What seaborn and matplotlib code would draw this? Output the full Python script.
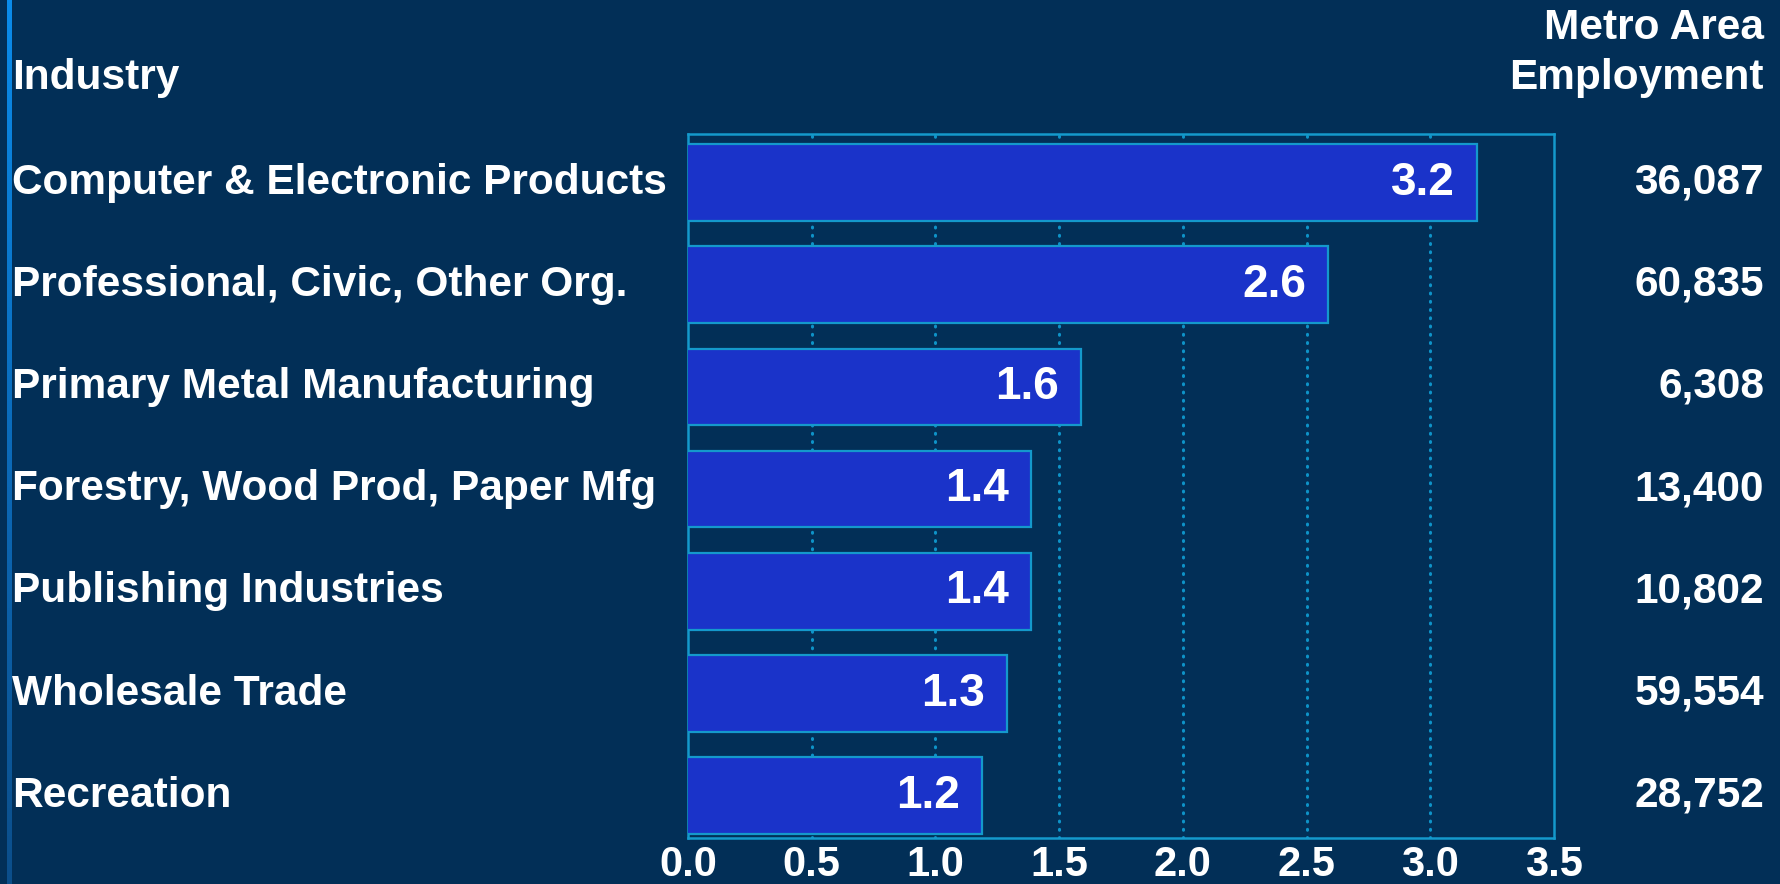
import numpy as np
import pandas as pd
import matplotlib
matplotlib.use("Agg")
import matplotlib.pyplot as plt
import matplotlib.transforms as mtransforms
from matplotlib.colors import LinearSegmentedColormap
import seaborn as sns

# ---- data ----
industries = [
    "Computer & Electronic Products",
    "Professional, Civic, Other Org.",
    "Primary Metal Manufacturing",
    "Forestry, Wood Prod, Paper Mfg",
    "Publishing Industries",
    "Wholesale Trade",
    "Recreation",
]
location_quotient = [3.2, 2.6, 1.6, 1.4, 1.4, 1.3, 1.2]
metro_employment = [36087, 60835, 6308, 13400, 10802, 59554, 28752]
x_ticks = [0.0, 0.5, 1.0, 1.5, 2.0, 2.5, 3.0, 3.5]

# ---- style ----
BG = "#022F57"
BAR = "#1A33C9"
EDGE = "#1499CC"
GRID = "#0E93C8"
W, H = 1780, 884

sns.set_theme(style="dark")
plt.rcParams["font.family"] = ["Liberation Sans", "DejaVu Sans"]
plt.rcParams["font.weight"] = "bold"

fig = plt.figure(figsize=(W / 100, H / 100), dpi=100, facecolor=BG)

# plot frame in pixel terms
left_px, right_px, top_px, bottom_px = 688, 1554, 134, 838
ax = fig.add_axes([left_px / W, 1 - bottom_px / H,
                   (right_px - left_px) / W, (bottom_px - top_px) / H])
ax.set_facecolor(BG)

df = pd.DataFrame({"industry": industries, "lq": location_quotient})
sns.barplot(data=df, x="lq", y="industry", orient="h", ax=ax,
            color=BAR, saturation=1, width=0.75,
            edgecolor=EDGE, linewidth=1.6, zorder=3)

# bars sit slightly to the left of the frame (shadowed look)
shift = mtransforms.ScaledTranslation(-3 / 100, 0, fig.dpi_scale_trans)
for p in ax.patches:
    p.set_transform(ax.transData + shift)

ax.set_xlim(0, 3.5)
ax.set_ylim(6.413, -0.475)
ax.set_xticks(x_ticks)
ax.set_xticklabels([f"{t:.1f}" for t in x_ticks], fontsize=30,
                   fontweight="bold", color="white")
ax.tick_params(axis="x", length=0, pad=5)
ax.set_yticks([])
ax.set_xlabel("")
ax.set_ylabel("")

for s in ax.spines.values():
    s.set_visible(True)
    s.set_color(EDGE)
    s.set_linewidth(1.8)

# dotted vertical gridlines behind bars
for t in x_ticks[1:-1]:
    ax.axvline(t, color=GRID, linewidth=2.2, linestyle=(0, (0.3, 2.4)),
               dash_capstyle="round", zorder=1)
ax.grid(False)

# value labels inside bar ends
lab_off = mtransforms.ScaledTranslation(-25 / 100, 0, fig.dpi_scale_trans)
for i, v in enumerate(location_quotient):
    ax.text(v, i, f"{v:.1f}", ha="right", va="center", fontsize=33,
            fontweight="bold", color="white", zorder=5,
            transform=ax.transData + lab_off)

# category labels on the left, employment numbers on the right
trans_left = mtransforms.blended_transform_factory(fig.transFigure, ax.transData)
for i, name in enumerate(industries):
    fig.text(12 / W, i, name, transform=trans_left, ha="left", va="center",
             fontsize=30.5, fontweight="bold", color="white")
    fig.text(1764 / W, i, f"{metro_employment[i]:,}", transform=trans_left,
             ha="right", va="center", fontsize=30.5, fontweight="bold",
             color="white")

# column headers
fig.text(12 / W, 1 - 78 / H, "Industry", ha="left", va="center",
         fontsize=30.5, fontweight="bold", color="white")
fig.text(1764 / W, 1 - 28 / H, "Metro Area", ha="right", va="center",
         fontsize=30.5, fontweight="bold", color="white")
fig.text(1764 / W, 1 - 78 / H, "Employment", ha="right", va="center",
         fontsize=30.5, fontweight="bold", color="white")

# accent rule down the left edge, fading towards the bottom
accent = fig.add_axes([7 / W, 0, 5 / W, 1])
cmap = LinearSegmentedColormap.from_list("accent", ["#0A8CEB", "#0B6BBA", "#0B4E8A"])
accent.imshow(np.linspace(0, 1, 256).reshape(-1, 1), aspect="auto", cmap=cmap,
              extent=(0, 1, 0, 1), origin="upper")
accent.set_axis_off()

fig.savefig("out.png", dpi=100, facecolor=BG)
